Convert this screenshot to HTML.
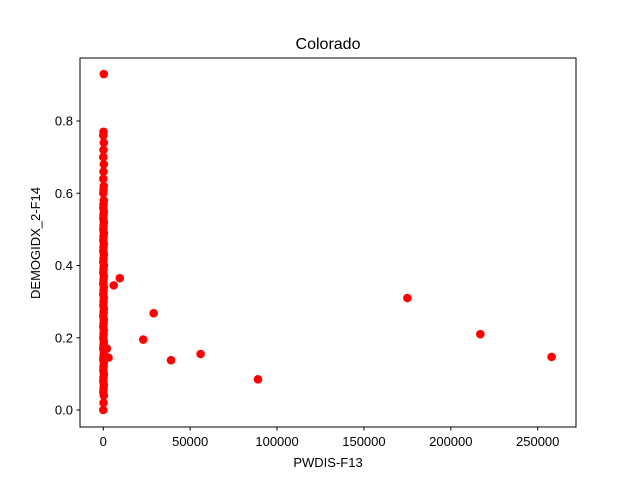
<!DOCTYPE html>
<html><head><meta charset="utf-8"><style>body{margin:0;background:#fff}svg{display:block;font-family:"Liberation Sans","DejaVu Sans",sans-serif}</style></head>
<body>
<svg id="chart" width="640" height="480">
<rect width="640" height="480" fill="#fff"/>
<text x="328" y="49" font-size="16" text-anchor="middle">Colorado</text>
<g id="ticks"></g>
<g id="points"></g>
<rect x="80" y="58" width="496" height="369" fill="none" stroke="#000" stroke-width="1"/>
<text x="328" y="467" font-size="13" text-anchor="middle">PWDIS-F13</text>
<text transform="translate(40,243) rotate(-90)" font-size="13" text-anchor="middle">DEMOGIDX_2-F14</text>
</svg>
<script>
const xTicks=[0,50000,100000,150000,200000,250000];
const yTicks=[0.0,0.2,0.4,0.6,0.8];
const yTickLabels=["0.0","0.2","0.4","0.6","0.8"];
const clusterY=[0.0,0.02,0.04,0.05,0.06,0.07,0.08,0.09,0.1,0.11,0.12,0.13,0.14,0.15,0.16,0.17,0.18,0.19,0.2,0.21,0.22,0.23,0.24,0.25,0.26,0.27,0.28,0.29,0.3,0.31,0.32,0.33,0.34,0.35,0.36,0.37,0.38,0.39,0.4,0.41,0.42,0.43,0.44,0.45,0.46,0.47,0.48,0.49,0.5,0.51,0.52,0.53,0.54,0.55,0.56,0.57,0.58,0.6,0.61,0.62,0.64,0.66,0.68,0.7,0.72,0.74,0.76,0.77,0.93];
const outlierX=[2000,3000,6000,9500,23000,29000,39000,56000,89000,175000,217000,258000];
const outlierY=[0.17,0.145,0.345,0.365,0.195,0.268,0.138,0.155,0.085,0.31,0.21,0.147];
const NS="http://www.w3.org/2000/svg";
const xs=v=>103.3+v*0.0017376;
const ys=v=>410-v*361.25;
const tg=document.getElementById('ticks'),pg=document.getElementById('points');
function mk(t,a,p){const e=document.createElementNS(NS,t);for(const k in a)e.setAttribute(k,a[k]);p.appendChild(e);return e;}
xTicks.forEach(v=>{
 const l=mk('line',{x1:xs(v),x2:xs(v),y1:427,y2:430.5,stroke:'#000'},tg);
 
 
 const t=mk('text',{x:xs(v),y:446,'font-size':13,'text-anchor':'middle'},tg);t.textContent=String(v);
 
 
});
yTicks.forEach((v,i)=>{
 const l=mk('line',{x1:76.5,x2:80,y1:ys(v),y2:ys(v),stroke:'#000'},tg);
 
 
 const t=mk('text',{x:73,y:ys(v)+4.5,'font-size':13,'text-anchor':'end'},tg);t.textContent=yTickLabels[i];
 
 
});
clusterY.forEach((v,i)=>{
 const c=mk('circle',{cx:xs((i%3)*150),cy:ys(v),r:4.3,fill:'#ff0000'},pg);
 
 
});
outlierX.forEach((v,i)=>{
 const c=mk('circle',{cx:xs(v),cy:ys(outlierY[i]),r:4.3,fill:'#ff0000'},pg);
 
 
});
</script>
</body></html>
